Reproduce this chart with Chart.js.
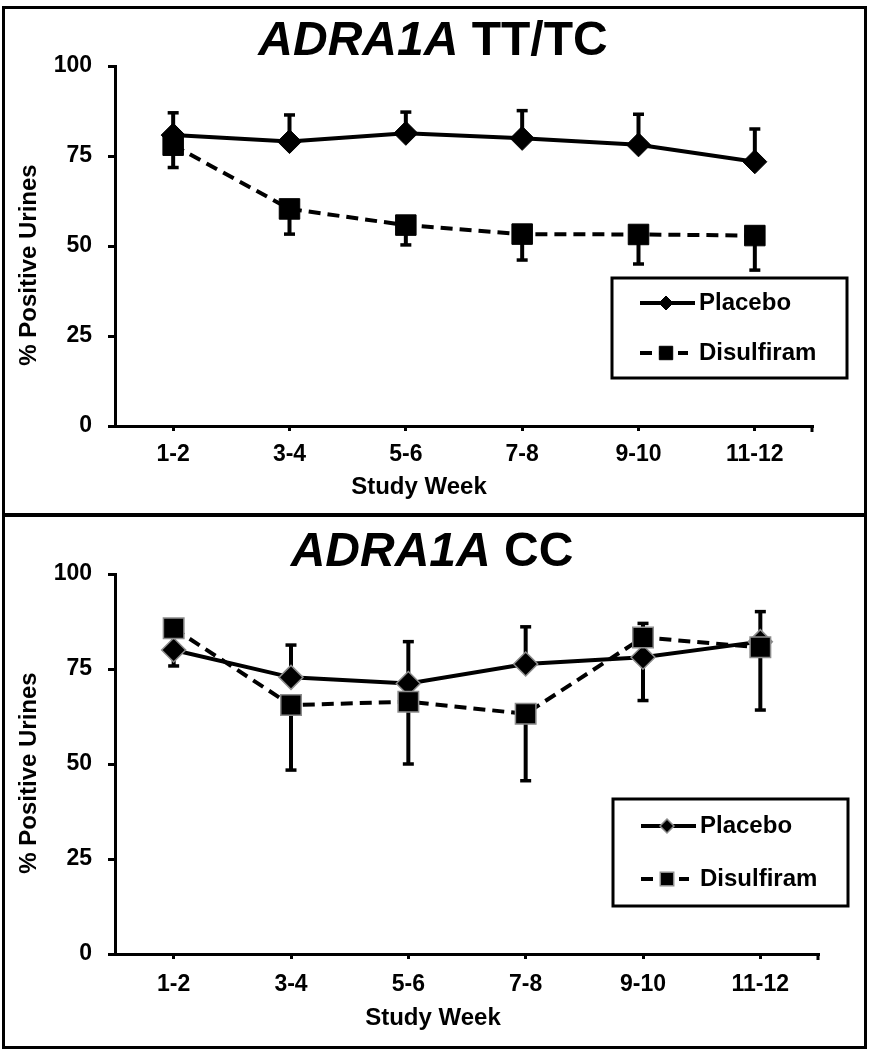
<!DOCTYPE html>
<html>
<head>
<meta charset="utf-8">
<script src="https://cdn.jsdelivr.net/npm/chart.js@4.4.0/dist/chart.umd.min.js"></script>
<style>
	html, body { margin: 0; padding: 0; background: #fff; }
	#wrap { position: relative; width: 869px; height: 1050px; overflow: hidden; }
	canvas { position: absolute; left: 0; }
	.frame { position: absolute; border: 3px solid #000; box-sizing: border-box; pointer-events: none; }
</style>
</head>
<body>
<div id="wrap">
	<canvas id="chartTop" width="869" height="513" style="top:0"></canvas>
	<canvas id="chartBottom" width="869" height="537" style="top:513px"></canvas>
	<div class="frame" style="left:2px;top:6px;width:865px;height:511px"></div>
	<div class="frame" style="left:2px;top:513px;width:865px;height:536px"></div>
</div>
<script>
const weeks = ['1-2', '3-4', '5-6', '7-8', '9-10', '11-12'];
const seriesNames = ['Placebo', 'Disulfiram'];
const yTicks = [0, 25, 50, 75, 100];

// ADRA1A TT/TC
const ttPlacebo = [80.8, 79.0, 81.3, 79.9, 78.1, 73.4];
const ttPlaceboErr = [6.2, 7.4, 5.9, 7.7, 8.5, 9.1];       // upper bars
const ttDisulfiram = [78.0, 60.3, 55.8, 53.3, 53.2, 52.9];
const ttDisulfiramErr = [6.2, 7.0, 5.5, 7.2, 8.2, 9.6];    // lower bars

// ADRA1A CC
const ccPlacebo = [80.0, 72.8, 71.2, 76.3, 78.1, 82.2];
const ccPlaceboErr = [4.5, 8.5, 11.0, 9.8, 8.9, 7.9];
const ccDisulfiram = [85.7, 65.5, 66.4, 63.2, 83.3, 80.7];
const ccDisulfiramErr = [9.9, 17.1, 16.4, 17.6, 16.6, 16.5];

const FONT = '"Liberation Sans", Arial, Helvetica, sans-serif';

// error bars: placebo goes up, disulfiram goes down
const errorBars = {
	id: 'errorBars',
	beforeDatasetsDraw(chart) {
		const ctx = chart.ctx, ys = chart.scales.y;
		chart.data.datasets.forEach((ds, i) => {
			const meta = chart.getDatasetMeta(i);
			meta.data.forEach((pt, j) => {
				const v = ds.data[j];
				const end = ds.errDir > 0 ? v + ds.err[j] : v - ds.err[j];
				const yEnd = ys.getPixelForValue(end);
				ctx.save();
				ctx.strokeStyle = '#000';
				ctx.lineWidth = 4;
				ctx.beginPath();
				ctx.moveTo(pt.x, pt.y);
				ctx.lineTo(pt.x, yEnd);
				ctx.stroke();
				ctx.lineWidth = 3.5;
				ctx.beginPath();
				ctx.moveTo(pt.x - 5.5, yEnd);
				ctx.lineTo(pt.x + 5.5, yEnd);
				ctx.stroke();
				ctx.restore();
			});
		});
	}
};

// title, axis titles, legend box, end tick
const decorations = {
	id: 'decorations',
	afterDraw(chart, args, o) {
		const ctx = chart.ctx, area = chart.chartArea;
		ctx.save();
		ctx.fillStyle = '#000';
		ctx.textBaseline = 'middle';

		// main title
		ctx.font = 'italic bold 48px ' + FONT;
		const w1 = ctx.measureText(o.titleItalic).width;
		ctx.font = 'bold 48px ' + FONT;
		const w2 = ctx.measureText(o.titleRest).width;
		let tx = o.titleX - (w1 + w2) / 2;
		ctx.textAlign = 'left';
		ctx.font = 'italic bold 48px ' + FONT;
		ctx.fillText(o.titleItalic, tx, o.titleY);
		ctx.font = 'bold 48px ' + FONT;
		ctx.fillText(o.titleRest, tx + w1, o.titleY);

		// axis titles
		ctx.textAlign = 'center';
		ctx.font = 'bold 24px ' + FONT;
		ctx.fillText('Study Week', o.xTitleX, o.xTitleY);
		ctx.save();
		ctx.translate(o.yTitleX, o.yTitleY);
		ctx.rotate(-Math.PI / 2);
		ctx.fillText('% Positive Urines', 0, 0);
		ctx.restore();

		// tick at right end of the x axis
		ctx.strokeStyle = '#000';
		ctx.lineWidth = 3;
		ctx.beginPath();
		ctx.moveTo(area.right - 1, area.bottom);
		ctx.lineTo(area.right - 1, area.bottom + 6);
		ctx.stroke();

		// legend
		const lg = o.legend;
		ctx.lineWidth = 3;
		ctx.strokeRect(lg.x, lg.y, lg.w, lg.h);
		ctx.textAlign = 'left';
		ctx.font = 'bold 24px ' + FONT;
		chart.data.datasets.forEach((ds, i) => {
			const ly = lg.rows[i];
			ctx.save();
			ctx.strokeStyle = '#000';
			ctx.lineWidth = 4;
			ctx.setLineDash(ds.borderDash || []);
			ctx.beginPath();
			ctx.moveTo(lg.x + 28, ly);
			ctx.lineTo(lg.x + (ds.borderDash ? 76 : 83), ly);
			ctx.stroke();
			ctx.setLineDash([]);
			ctx.fillStyle = '#000';
			ctx.strokeStyle = ds.pointBorderColor;
			ctx.lineWidth = ds.pointBorderWidth;
			Chart.helpers.drawPoint(ctx, {
				pointStyle: ds.pointStyle,
				radius: ds.pointStyle === 'rect' ? 9.5 : 7,
				rotation: 0,
				borderWidth: ds.pointBorderWidth
			}, lg.x + 54, ly);
			ctx.restore();
			ctx.fillText(ds.label, lg.x + 87, ly);
		});
		ctx.restore();
	}
};

function makeChart(id, placebo, placeboErr, disulfiram, disulfiramErr, lay) {
	const markerEdge = lay.markerEdge;
	return new Chart(document.getElementById(id), {
		type: 'line',
		data: {
			labels: weeks,
			datasets: [{
				label: seriesNames[0],
				data: placebo,
				err: placeboErr,
				errDir: 1,
				order: 2,
				borderColor: '#000',
				borderWidth: 4,
				pointStyle: 'rectRot',
				pointRadius: 12,
				pointBackgroundColor: '#000',
				pointBorderColor: markerEdge,
				pointBorderWidth: lay.edgeWidth,
				tension: 0
			}, {
				label: seriesNames[1],
				data: disulfiram,
				err: disulfiramErr,
				errDir: -1,
				order: 1,
				borderColor: '#000',
				borderWidth: 4,
				borderDash: [12, 7],
				pointStyle: 'rect',
				pointRadius: 14.5,
				pointBackgroundColor: '#000',
				pointBorderColor: markerEdge,
				pointBorderWidth: lay.edgeWidth,
				tension: 0
			}]
		},
		options: {
			responsive: false,
			animation: false,
			events: [],
			layout: { padding: { top: lay.top, right: lay.right, left: 0, bottom: 0 } },
			plugins: {
				legend: { display: false },
				tooltip: { enabled: false },
				title: { display: false },
				decorations: lay.deco
			},
			scales: {
				x: {
					offset: true,
					afterFit: s => { s.height = lay.xHeight; },
					grid: { drawOnChartArea: false, tickLength: 5, tickWidth: 3, tickColor: '#000' },
					border: { color: '#000', width: 3 },
					ticks: { color: '#000', padding: lay.xPad, font: { family: FONT, size: 23, weight: 'bold' } }
				},
				y: {
					min: yTicks[0],
					max: yTicks[yTicks.length - 1],
					afterFit: s => { s.width = 115; },
					afterBuildTicks: s => { s.ticks = yTicks.map(v => ({ value: v })); },
					grid: { drawOnChartArea: false, tickLength: 7, tickWidth: 3, tickColor: '#000' },
					border: { color: '#000', width: 3 },
					ticks: { color: '#000', padding: 16, font: { family: FONT, size: 23, weight: 'bold' } }
				}
			}
		},
		plugins: [errorBars, decorations]
	});
}

makeChart('chartTop', ttPlacebo, ttPlaceboErr, ttDisulfiram, ttDisulfiramErr, {
	top: 66, right: 56, xHeight: 87, xPad: 10,
	markerEdge: '#000', edgeWidth: 1,
	deco: {
		titleItalic: 'ADRA1A', titleRest: ' TT/TC', titleX: 433, titleY: 42,
		xTitleX: 419, xTitleY: 487, yTitleX: 29, yTitleY: 265,
		legend: { x: 612, y: 278, w: 235, h: 100, rows: [303, 353] }
	}
});

makeChart('chartBottom', ccPlacebo, ccPlaceboErr, ccDisulfiram, ccDisulfiramErr, {
	top: 61, right: 50, xHeight: 96, xPad: 12,
	markerEdge: '#8c8c8c', edgeWidth: 1.5,
	deco: {
		titleItalic: 'ADRA1A', titleRest: ' CC', titleX: 432, titleY: 40,
		xTitleX: 433, xTitleY: 505, yTitleX: 29, yTitleY: 260,
		legend: { x: 613, y: 286, w: 235, h: 107, rows: [313, 366] }
	}
});
</script>
</body>
</html>
